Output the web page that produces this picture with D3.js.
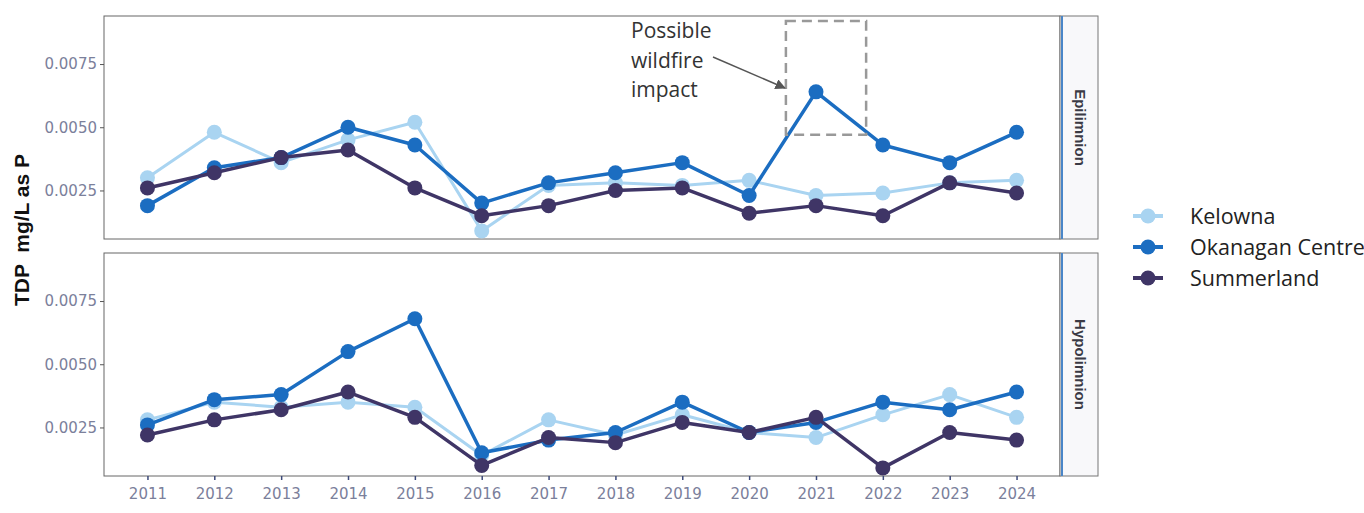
<!DOCTYPE html>
<html>
<head>
<meta charset="utf-8">
<title>TDP by site</title>
<script src="https://d3js.org/d3.v7.min.js"></script>
<style>
  body { margin: 0; background: #fff; }
  svg { display: block; }
</style>
</head>
<body>
<svg width="1364" height="513"></svg>
<script>
// data (mg/L as P)
const years = [2011, 2012, 2013, 2014, 2015, 2016, 2017, 2018, 2019, 2020, 2021, 2022, 2023, 2024];
const sites = ["Kelowna", "Okanagan Centre", "Summerland"];
const layers = ["Epilimnion", "Hypolimnion"];

const kelownaEpi    = [0.0030, 0.0048, 0.0036, 0.0045, 0.0052, 0.0009, 0.0027, 0.0028, 0.0027, 0.0029, 0.0023, 0.0024, 0.0028, 0.0029];
const okanaganEpi   = [0.0019, 0.0034, 0.0038, 0.0050, 0.0043, 0.0020, 0.0028, 0.0032, 0.0036, 0.0023, 0.0064, 0.0043, 0.0036, 0.0048];
const summerlandEpi = [0.0026, 0.0032, 0.0038, 0.0041, 0.0026, 0.0015, 0.0019, 0.0025, 0.0026, 0.0016, 0.0019, 0.0015, 0.0028, 0.0024];

const kelownaHypo    = [0.0028, 0.0035, 0.0033, 0.0035, 0.0033, 0.0014, 0.0028, 0.0022, 0.0030, 0.0023, 0.0021, 0.0030, 0.0038, 0.0029];
const okanaganHypo   = [0.0026, 0.0036, 0.0038, 0.0055, 0.0068, 0.0015, 0.0020, 0.0023, 0.0035, 0.0023, 0.0027, 0.0035, 0.0032, 0.0039];
const summerlandHypo = [0.0022, 0.0028, 0.0032, 0.0039, 0.0029, 0.0010, 0.0021, 0.0019, 0.0027, 0.0023, 0.0029, 0.0009, 0.0023, 0.0020];

const yTicks = [0.0025, 0.0050, 0.0075];

const colors = { "Kelowna": "#a9d4f1", "Okanagan Centre": "#1b6dc1", "Summerland": "#3f3566" };

const panelData = {
  "Epilimnion":  { "Kelowna": kelownaEpi,  "Okanagan Centre": okanaganEpi,  "Summerland": summerlandEpi },
  "Hypolimnion": { "Kelowna": kelownaHypo, "Okanagan Centre": okanaganHypo, "Summerland": summerlandHypo }
};

// layout
const left = 104, right = 1060, stripW = 38;
const panelH = 223;
const panelTop = { "Epilimnion": 16, "Hypolimnion": 253 };
const tickFont = '"DejaVu Sans", Verdana, sans-serif';

const svg = d3.select('svg');

const x = d3.scaleLinear()
  .domain([2010.35, 2024.65])
  .range([left, right]);

// facets share the y scale
const yDomain = [0.00058, 0.0094];

// y axis title
svg.append('text')
  .attr('transform', 'translate(29, 230) rotate(-90)')
  .attr('text-anchor', 'middle')
  .style('font-family', '"Liberation Sans", Arial, sans-serif')
  .style('font-weight', 'bold')
  .style('font-size', '21px')
  .style('white-space', 'pre')
  .attr('fill', '#111')
  .text('TDP  mg/L as P');

layers.forEach(function(layer, li) {
  const top = panelTop[layer];
  const y = d3.scaleLinear().domain(yDomain).range([top + panelH, top]);
  const g = svg.append('g');

  // panel border
  g.append('rect')
    .attr('x', left).attr('y', top)
    .attr('width', right - left).attr('height', panelH)
    .attr('fill', '#fff').attr('stroke', '#666').attr('stroke-width', 1);

  // strip
  g.append('rect')
    .attr('x', right).attr('y', top)
    .attr('width', stripW).attr('height', panelH)
    .attr('fill', '#f8f8fa').attr('stroke', '#777').attr('stroke-width', 1);
  g.append('line')
    .attr('x1', right + 2).attr('x2', right + 2)
    .attr('y1', top).attr('y2', top + panelH)
    .attr('stroke', '#4a86c8').attr('stroke-width', 2);
  g.append('text')
    .attr('transform', `translate(${right + stripW / 2 + 1}, ${top + panelH / 2}) rotate(90)`)
    .attr('text-anchor', 'middle')
    .attr('dy', '0.35em')
    .style('font-family', '"Liberation Sans", Arial, sans-serif')
    .style('font-weight', 'bold')
    .style('font-size', '15px')
    .attr('fill', '#3a3a45')
    .text(layer);

  // y axis
  const yAxis = g.append('g')
    .attr('transform', `translate(${left}, 0)`)
    .call(d3.axisLeft(y).tickValues(yTicks).tickFormat(d3.format('.4f')).tickSize(4).tickPadding(3));
  yAxis.select('.domain').remove();
  yAxis.selectAll('line').attr('stroke', '#555');
  yAxis.selectAll('text')
    .attr('fill', '#7b809b')
    .style('font-family', tickFont)
    .style('font-size', '15px');

  // x axis on the lower panel only
  if (li === layers.length - 1) {
    const xAxis = g.append('g')
      .attr('transform', `translate(0, ${top + panelH})`)
      .call(d3.axisBottom(x).tickValues(years).tickFormat(d3.format('d')).tickSize(4).tickPadding(8));
    xAxis.select('.domain').remove();
    xAxis.selectAll('line').attr('stroke', '#3d4a7a').attr('stroke-width', 1.5);
    xAxis.selectAll('text')
      .attr('fill', '#7b809b')
      .style('font-family', tickFont)
      .style('font-size', '15px');
  }

  const line = d3.line()
    .x((d, i) => x(years[i]))
    .y(d => y(d));

  sites.forEach(function(site) {
    const vals = panelData[layer][site];
    g.append('path')
      .datum(vals)
      .attr('d', line)
      .attr('fill', 'none')
      .attr('stroke', colors[site])
      .attr('stroke-width', site === 'Kelowna' ? 3 : 3.5)
      .attr('stroke-linejoin', 'round');
    g.selectAll(null)
      .data(vals)
      .enter()
      .append('circle')
      .attr('cx', (d, i) => x(years[i]))
      .attr('cy', d => y(d))
      .attr('r', 7.5)
      .attr('fill', colors[site]);
  });

  // wildfire annotation on the epilimnion panel
  if (layer === 'Epilimnion') {
    const bx0 = x(2020.55), bx1 = x(2021.75);
    const by0 = y(0.0092), by1 = y(0.0047);
    g.append('rect')
      .attr('x', bx0).attr('y', by0)
      .attr('width', bx1 - bx0).attr('height', by1 - by0)
      .attr('fill', 'none')
      .attr('stroke', '#999')
      .attr('stroke-width', 2.5)
      .attr('stroke-dasharray', '10,6');

    svg.append('defs').append('marker')
      .attr('id', 'arrowhead')
      .attr('viewBox', '0 0 10 10')
      .attr('refX', 9).attr('refY', 5)
      .attr('markerWidth', 7).attr('markerHeight', 7)
      .attr('orient', 'auto')
      .append('path')
      .attr('d', 'M0,0 L10,5 L0,10 Z')
      .attr('fill', '#555');

    g.append('line')
      .attr('x1', 713).attr('y1', 57)
      .attr('x2', bx0 - 1).attr('y2', 88)
      .attr('stroke', '#555')
      .attr('stroke-width', 1.5)
      .attr('marker-end', 'url(#arrowhead)');

    const note = g.append('text')
      .style('font-family', '"Open Sans", "Noto Sans", sans-serif')
      .style('font-size', '21px')
      .attr('fill', '#333');
    ['Possible', 'wildfire', 'impact'].forEach(function(t, i) {
      note.append('tspan').attr('x', 631).attr('y', 38 + i * 29.5).text(t);
    });
  }
});

// legend
const legend = svg.append('g').attr('transform', 'translate(1133, 216)');
sites.forEach(function(site, i) {
  const row = legend.append('g').attr('transform', `translate(0, ${i * 31})`);
  row.append('line')
    .attr('x1', 0).attr('x2', 30)
    .attr('stroke', colors[site]).attr('stroke-width', 4);
  row.append('circle')
    .attr('cx', 15).attr('r', 7.5)
    .attr('fill', colors[site]);
  row.append('text')
    .attr('x', 57)
    .attr('dy', '0.35em')
    .style('font-family', '"Open Sans", "Noto Sans", sans-serif')
    .style('font-size', '21.5px')
    .attr('fill', '#222')
    .text(site);
});
</script>
</body>
</html>
